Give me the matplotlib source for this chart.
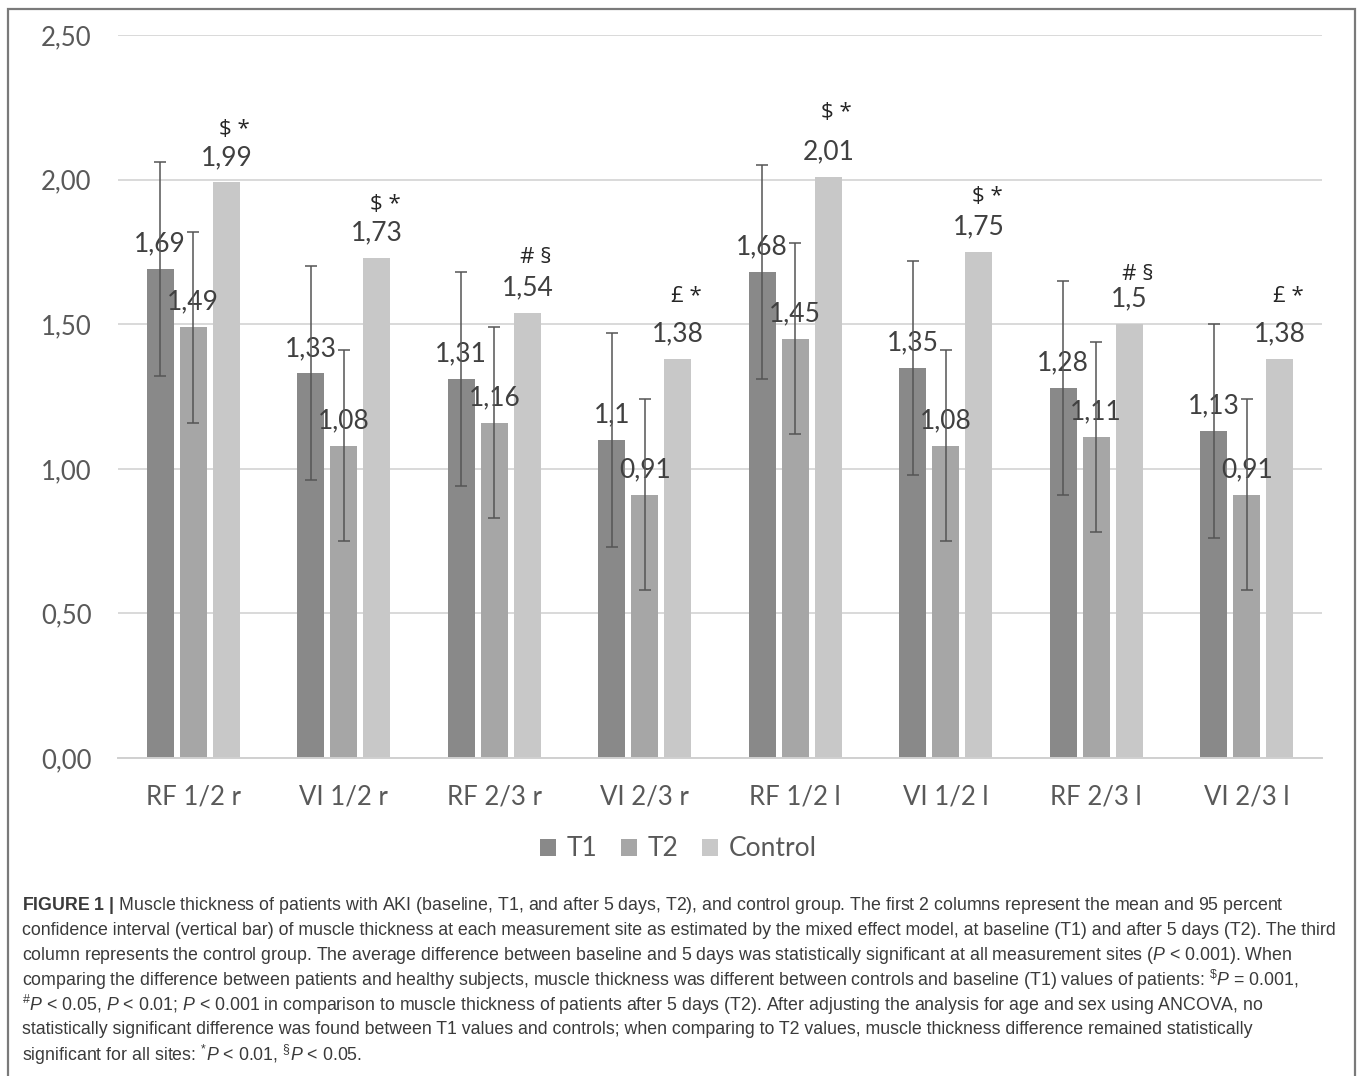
"""Muscle thickness bar chart (T1 / T2 / Control) with 95% CI and caption."""
import matplotlib
matplotlib.use("Agg")
import matplotlib.pyplot as plt
import numpy as np
from matplotlib.patches import Rectangle

sites = ["RF 1/2 r", "VI 1/2 r", "RF 2/3 r", "VI 2/3 r",
         "RF 1/2 l", "VI 1/2 l", "RF 2/3 l", "VI 2/3 l"]
t1 = [1.69, 1.33, 1.31, 1.10, 1.68, 1.35, 1.28, 1.13]
t2 = [1.49, 1.08, 1.16, 0.91, 1.45, 1.08, 1.11, 0.91]
control = [1.99, 1.73, 1.54, 1.38, 2.01, 1.75, 1.50, 1.38]
t1_ci = [0.37] * 8
t2_ci = [0.33] * 8
marks = ["$ *", "$ *", "# §", "£ *", "$ *", "$ *", "# §", "£ *"]
yticks = [0.0, 0.5, 1.0, 1.5, 2.0, 2.5]

# gap (pt) between control value label and its significance mark
mark_gap = [20, 20, 22, 27, 28, 22, 18, 27]

caption = [
    r"$\mathbf{FIGURE\ 1\ |}$ Muscle thickness of patients with AKI (baseline, T1, and after 5 days, T2), and control group. The first 2 columns represent the mean and 95 percent",
    "confidence interval (vertical bar) of muscle thickness at each measurement site as estimated by the mixed effect model, at baseline (T1) and after 5 days (T2). The third",
    r"column represents the control group. The average difference between baseline and 5 days was statistically significant at all measurement sites ($P$ < 0.001). When",
    r"comparing the difference between patients and healthy subjects, muscle thickness was different between controls and baseline (T1) values of patients: $^{\$}P$ = 0.001,",
    r"$^{\#}P$ < 0.05, $P$ < 0.01; $P$ < 0.001 in comparison to muscle thickness of patients after 5 days (T2). After adjusting the analysis for age and sex using ANCOVA, no",
    "statistically significant difference was found between T1 values and controls; when comparing to T2 values, muscle thickness difference remained statistically",
    r"significant for all sites: $^{*}P$ < 0.01, $^{\S}P$ < 0.05.",
]

plt.rcParams["font.family"] = ["Lato", "DejaVu Sans"]
plt.rcParams["mathtext.fontset"] = "custom"
plt.rcParams["mathtext.rm"] = "Liberation Sans"
plt.rcParams["mathtext.it"] = "Liberation Sans:italic"
plt.rcParams["mathtext.bf"] = "Liberation Sans:bold"

TXT = "#595959"
COLORS = ["#898989", "#a6a6a6", "#c8c8c8"]

fig = plt.figure(figsize=(13.57, 10.76), dpi=100)
ax = fig.add_axes([0.087, 0.2955, 0.8872, 0.672])

x = np.arange(len(sites))
off = 0.22
w = 0.18
series = [("T1", t1, t1_ci), ("T2", t2, t2_ci), ("Control", control, None)]
for k, (name, vals, ci) in enumerate(series):
    xs = x + (k - 1) * off
    ax.bar(xs, vals, w, color=COLORS[k], label=name, zorder=2)
    if ci is not None:
        ax.errorbar(xs, vals, yerr=ci, fmt="none", ecolor="#555555",
                    elinewidth=1.1, capsize=4.5, capthick=1.1, zorder=4)
    for i, v in enumerate(vals):
        lab = f"{v:g}".replace(".", ",")
        ax.annotate(lab, (xs[i], v), xytext=(0, 18), textcoords="offset points",
                    ha="center", va="center", fontsize=19, color="#404040", zorder=3)
        if name == "Control":
            ax.annotate(marks[i], (xs[i], v), xytext=(6, 18 + mark_gap[i]),
                        textcoords="offset points", ha="center", va="center",
                        fontsize=16, color="#262626", zorder=3, parse_math=False,
                        family=["Open Sans", "DejaVu Sans"])

ax.set_xlim(-0.5, len(sites) - 0.5)
ax.set_ylim(0, 2.5)
ax.set_yticks(yticks)
ax.set_yticklabels([f"{t:.2f}".replace(".", ",") for t in yticks])
ax.set_xticks(x)
ax.set_xticklabels(sites)
ax.tick_params(axis="both", length=0, labelsize=18.5, labelcolor=TXT)
ax.tick_params(axis="y", pad=19)
ax.tick_params(axis="x", pad=19)
ax.grid(axis="y", color="#d9d9d9", linewidth=1.4, zorder=0)
ax.set_axisbelow(True)
for s in ["top", "right", "left"]:
    ax.spines[s].set_visible(False)
ax.spines["bottom"].set_color("#d0d0d0")
ax.spines["bottom"].set_linewidth(1.4)

leg = fig.legend(loc="center", bbox_to_anchor=(0.5, 0.211), ncol=3, frameon=False,
                 fontsize=19, handlelength=0.6, handleheight=0.6,
                 handletextpad=0.4, columnspacing=0.9)
for t in leg.get_texts():
    t.set_color(TXT)

# outer frame
fig.add_artist(Rectangle((8 / 1357, -0.05), 1347 / 1357, 1.05 - 9 / 1076,
                         transform=fig.transFigure, fill=False,
                         edgecolor="#7a7a7a", linewidth=1.6))

y0 = 1 - 906 / 1076
dy = 24.8 / 1076
for j, line in enumerate(caption):
    fig.text(22 / 1357, y0 - j * dy, line, ha="left", va="center",
             fontsize=12.8, color="#3a3a3a", family="Liberation Sans")

fig.savefig("out.png", dpi=100)
